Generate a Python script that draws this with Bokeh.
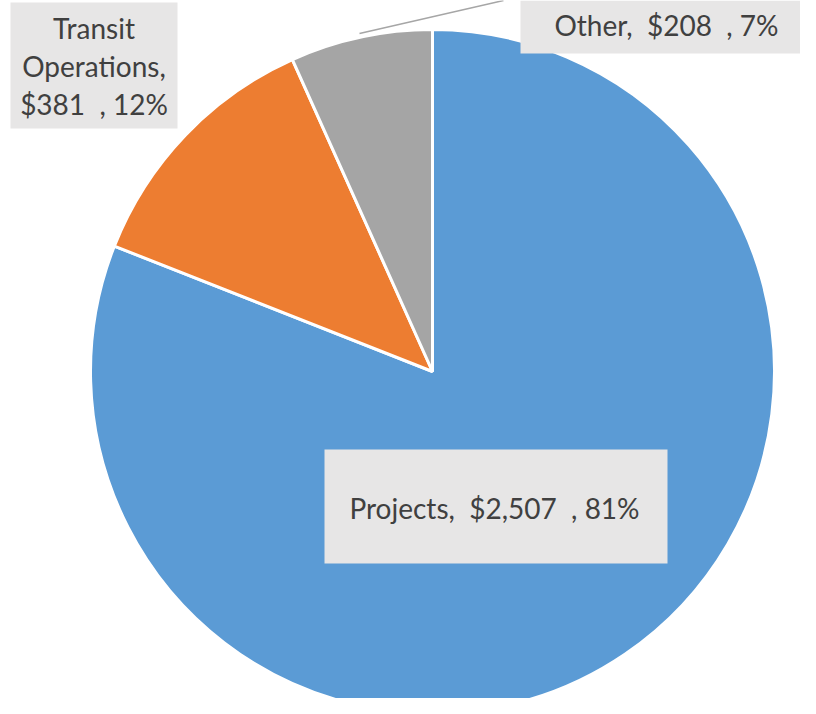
import math
from bokeh.plotting import figure
from bokeh.models import Range1d
from bokeh.core.properties import value
from bokeh.embed import file_html
from bokeh.resources import INLINE

# data
categories = ["Projects", "Transit Operations", "Other"]
amounts = [2507, 381, 208]
percents = [81, 12, 7]
colors = ["#5B9BD5", "#ED7D31", "#A5A5A5"]

W, H = 800, 698
p = figure(width=W, height=H, output_backend="svg", toolbar_location=None,
           x_range=Range1d(0, 800), y_range=Range1d(16, 714),
           min_border=0)
p.axis.visible = False
p.grid.visible = False
p.outline_line_color = None
p.background_fill_color = "white"

def Y(py):
    return 714 - py

cx, cy, r = 432, Y(371), 342
total = sum(amounts)
start = math.pi / 2
starts, ends = [], []
for a in amounts:
    ang = a / total * 2 * math.pi
    starts.append(start)
    ends.append(start - ang)
    start -= ang

p.wedge(x=cx, y=cy, radius=r, start_angle=starts, end_angle=ends,
        direction="clock", fill_color=colors, line_color="white", line_width=3)

# leader line for "Other"
p.line(x=[359, 503], y=[Y(33), Y(0)], line_color="#A6A6A6", line_width=1.5)

# label boxes (left, right, top, bottom in pixel coords)
boxes = [(324, 667, 449, 563), (10, 177, 2, 128), (520, 815, 0, 53)]
for (l, rr, t, b) in boxes:
    p.quad(left=l, right=rr, top=Y(t), bottom=Y(b), fill_color="#E7E6E6",
           line_color=None)

font = value("Lato")
fs = "28px"
tcol = "#404040"
NB = "\u00a0"
def lab(cat, amt, pct):
    return f"{cat},{NB} ${amt:,}{NB} , {pct}%"

# Projects
p.text(x=[494], y=[Y(507)], text=[lab(categories[0], amounts[0], percents[0])],
       text_font=font, text_font_size=fs, text_color=tcol,
       text_align="center", text_baseline="middle")
# Transit Operations (three lines)
tl = ["Transit", "Operations,", f"${amounts[1]:,}{NB} , {percents[1]}%"]
p.text(x=[93.5] * 3, y=[Y(27), Y(65), Y(103)], text=tl,
       text_font=font, text_font_size=fs, text_color=tcol,
       text_align="center", text_baseline="middle")
# Other
p.text(x=[666], y=[Y(24)], text=[lab(categories[2], amounts[2], percents[2])],
       text_font=font, text_font_size=fs, text_color=tcol,
       text_align="center", text_baseline="middle")

open("out.html", "w").write(file_html(p, INLINE))
